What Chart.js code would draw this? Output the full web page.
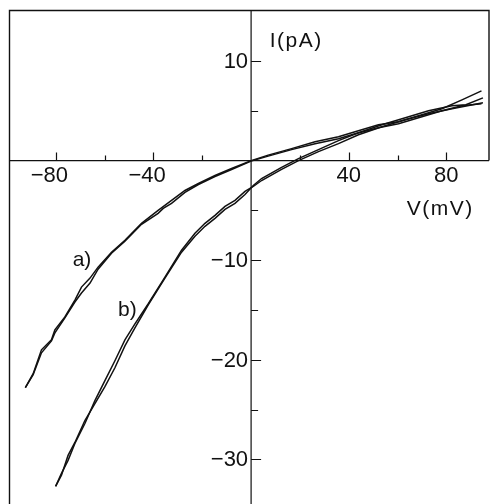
<!DOCTYPE html>
<html>
<head>
<meta charset="utf-8">
<script src="https://cdn.jsdelivr.net/npm/chart.js@4"></script>
<style>
  html, body { margin: 0; padding: 0; background: #fff; }
  #wrap { width: 491px; height: 504px; position: relative; }
</style>
</head>
<body>
<div id="wrap"><canvas id="ivChart"></canvas></div>
<script>
// curve a) - two sweeps (out and back) that make the little loops
const aOutV = [-92.5, -89.3, -85.9, -81.8, -80.4, -76.3, -72.2, -69.5, -66, -62.7, -57.2, -51.7, -44.9, -38.1, -32.6, -27.1, -21.6, -14.8, -8, 0, 7, 16.6, 26.2, 35.8, 42.6, 52.2, 60.4, 70, 78.2, 86.4, 94.4];
const aOutI = [-22.8, -21.4, -19.0, -18.0, -17.0, -15.7, -14.0, -12.7, -11.8, -10.7, -9.2, -8.0, -6.3, -5.0, -4.0, -3.0, -2.3, -1.5, -0.8, 0, 0.55, 1.2, 1.9, 2.4, 2.9, 3.6, 3.9, 4.6, 5.2, 6.1, 7.0];
const aBackV = [94.4, 86.4, 78.2, 70, 60.4, 52.2, 42.6, 35.8, 26.2, 16.6, 7, 0, -8, -14.8, -21.6, -27.1, -32.6, -36, -38.1, -44.9, -51.7, -57.2, -62.7, -66, -69.5, -72.2, -76.3, -80.4, -81.8, -85.9, -89.3, -92.5];
const aBackI = [5.7, 5.5, 5.0, 4.4, 3.7, 3.3, 2.7, 2.2, 1.7, 1.1, 0.45, -0.05, -0.9, -1.6, -2.4, -3.2, -4.3, -4.8, -5.3, -6.4, -8.1, -9.3, -10.9, -12.3, -13.3, -14.2, -15.8, -17.3, -18.1, -19.3, -21.5, -22.8];

// curve b)
const bOutV = [-80.1, -77.7, -75, -72.2, -68.1, -64, -59.9, -55.8, -51.7, -47.6, -42.2, -35.3, -28.5, -23, -18.9, -14.8, -10.7, -6.6, -2.5, 0.9, 4.3, 12.3, 19.4, 27.6, 35.8, 44, 53.6, 63.2, 72.7, 82.3, 95];
const bOutI = [-32.7, -31.4, -30.1, -28.4, -26.4, -24.1, -22.1, -20.1, -18.0, -16.4, -14.4, -11.7, -9.0, -7.3, -6.3, -5.5, -4.6, -4.0, -3.1, -2.6, -2.0, -0.9, 0, 0.9, 1.7, 2.6, 3.4, 4.1, 4.7, 5.2, 5.8];
const bBackV = [95, 88, 82.3, 72.7, 63.2, 53.6, 44, 35.8, 27.6, 19.4, 12.3, 4.3, 0.9, -2.5, -6.6, -10.7, -14.8, -18.9, -23, -28.5, -35.3, -42.2, -47.6, -51.7, -55.8, -59.9, -64, -68.1, -72.2, -75, -77.7, -80.1];
const bBackI = [6.3, 5.6, 5.5, 5.0, 4.3, 3.6, 2.8, 2.0, 1.1, 0.2, -0.7, -1.8, -2.5, -3.4, -4.3, -4.9, -5.8, -6.6, -7.6, -9.2, -11.8, -14.5, -16.8, -18.6, -20.8, -22.7, -24.4, -26.1, -28.3, -29.6, -31.6, -32.7];

// ticks
const xMajorTicks = [-80, -40, 40, 80];
const xMinorTicks = [-60, -20, 20, 60];
const yMajorTicks = [10, -10, -20, -30];
const yMinorTicks = [5, -5, -15, -25];

// text placed in data units
const curveLabels = ["a)", "b)"];
const curveLabelV = [-69.3, -50.7];
const curveLabelI = [-10, -15];

const INK = "#111";
const FONT = "Liberation Sans, Arial, sans-serif";

function toPoints(vs, is) {
  return vs.map((v, k) => ({ x: v, y: is[k] }));
}

function trace(vs, is) {
  return {
    data: toPoints(vs, is),
    showLine: true,
    borderColor: INK,
    borderWidth: 1.5,
    pointRadius: 0,
    tension: 0,
    fill: false,
  };
}

function fmt(v) {
  return v < 0 ? "\u2212" + Math.abs(v) : String(v);
}

const axesPlugin = {
  id: "crossAxes",
  beforeDatasetsDraw(chart) {
    const ctx = chart.ctx;
    const xs = chart.scales.x;
    const ys = chart.scales.y;
    const area = chart.chartArea;
    const x0 = xs.getPixelForValue(0);
    const y0 = ys.getPixelForValue(0);
    const right = area.right - 2;

    ctx.save();
    ctx.strokeStyle = INK;

    // frame: left side full height, right side only down to the V axis
    ctx.lineWidth = 1.4;
    ctx.beginPath();
    ctx.moveTo(area.left + 0.5, area.bottom);
    ctx.lineTo(area.left + 0.5, area.top + 0.5);
    ctx.lineTo(right, area.top + 0.5);
    ctx.lineTo(right, y0);
    ctx.stroke();

    // axis lines
    ctx.lineWidth = 1.2;
    ctx.beginPath();
    ctx.moveTo(area.left, y0);
    ctx.lineTo(right, y0);
    ctx.moveTo(x0, area.top);
    ctx.lineTo(x0, area.bottom);
    ctx.stroke();

    // x ticks point up, y ticks point right
    ctx.beginPath();
    for (const v of xMajorTicks) {
      const px = Math.round(xs.getPixelForValue(v)) + 0.5;
      ctx.moveTo(px, y0);
      ctx.lineTo(px, y0 - 8);
    }
    for (const v of xMinorTicks) {
      const px = Math.round(xs.getPixelForValue(v)) + 0.5;
      ctx.moveTo(px, y0);
      ctx.lineTo(px, y0 - 5);
    }
    for (const v of yMajorTicks) {
      const py = Math.round(ys.getPixelForValue(v)) + 0.5;
      ctx.moveTo(x0, py);
      ctx.lineTo(x0 + 10, py);
    }
    for (const v of yMinorTicks) {
      const py = Math.round(ys.getPixelForValue(v)) + 0.5;
      ctx.moveTo(x0, py);
      ctx.lineTo(x0 + 7, py);
    }
    ctx.stroke();

    // tick labels
    ctx.fillStyle = INK;
    ctx.font = "22px " + FONT;
    ctx.textBaseline = "middle";
    ctx.textAlign = "right";
    for (const v of xMajorTicks) {
      const w = ctx.measureText(String(Math.abs(v))).width;
      ctx.fillText(fmt(v), xs.getPixelForValue(v) + w / 2, y0 + 15);
    }
    for (const v of yMajorTicks) {
      ctx.fillText(fmt(v), x0 - 3, ys.getPixelForValue(v) + 1);
    }

    // axis titles
    ctx.font = "21px " + FONT;
    ctx.letterSpacing = "1.5px";
    ctx.textAlign = "left";
    ctx.fillText("I(pA)", xs.getPixelForValue(7.6), ys.getPixelForValue(12.0));
    ctx.textAlign = "center";
    ctx.fillText("V(mV)", xs.getPixelForValue(77.5), ys.getPixelForValue(-4.86));
    ctx.letterSpacing = "0px";

    // curve names
    ctx.font = "21px " + FONT;
    curveLabels.forEach((t, k) => {
      ctx.fillText(t, xs.getPixelForValue(curveLabelV[k]), ys.getPixelForValue(curveLabelI[k]));
    });
    ctx.restore();
  },
};

new Chart(document.getElementById("ivChart"), {
  type: "scatter",
  data: {
    datasets: [
      trace(aOutV, aOutI),
      trace(aBackV, aBackI),
      trace(bOutV, bOutI),
      trace(bBackV, bBackI),
    ],
  },
  options: {
    responsive: true,
    maintainAspectRatio: false,
    animation: false,
    layout: { padding: { left: 9, top: 10, right: 0, bottom: 0 } },
    plugins: {
      legend: { display: false },
      tooltip: { enabled: false },
    },
    scales: {
      x: { type: "linear", min: -99.2, max: 98.3, display: false },
      y: { type: "linear", min: -34.48, max: 15.12, display: false },
    },
  },
  plugins: [axesPlugin],
});
</script>
</body>
</html>
